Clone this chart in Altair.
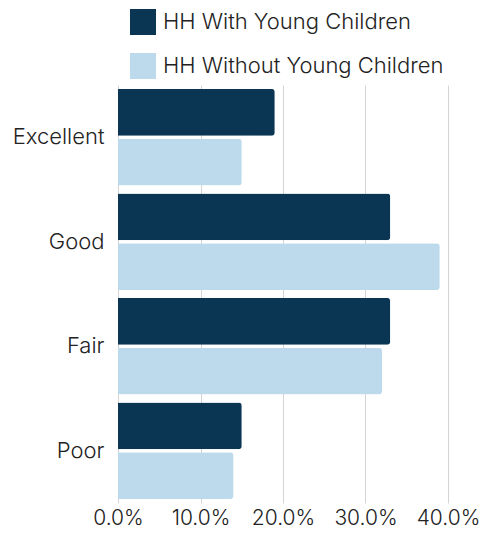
import altair as alt
import pandas as pd

categories = ["Excellent", "Good", "Fair", "Poor"]
series = ["HH With Young Children", "HH Without Young Children"]
with_young = [0.19, 0.33, 0.33, 0.15]
without_young = [0.15, 0.39, 0.32, 0.14]
colors = ["#0a3553", "#bdd9ec"]
x_ticks = [0, 0.1, 0.2, 0.3, 0.4]

rows = []
for c, a, b in zip(categories, with_young, without_young):
    rows.append({"cat": c, "series": series[0], "value": a})
    rows.append({"cat": c, "series": series[1], "value": b})
df = pd.DataFrame(rows)

FONT = "Inter"
FS = 22

chart = alt.Chart(df).mark_bar(cornerRadiusEnd=3).encode(
    y=alt.Y("cat:N", sort=categories, title=None,
            scale=alt.Scale(paddingInner=0.076, paddingOuter=0.038),
            axis=alt.Axis(domain=False, ticks=False, labelFontSize=FS, labelColor="#222222",
                          labelFont=FONT, labelFontWeight=300, labelPadding=14, grid=False,
                          labelLimit=0)),
    yOffset=alt.YOffset("series:N", sort=series, scale=alt.Scale(paddingInner=0.06)),
    x=alt.X("value:Q", title=None, scale=alt.Scale(domain=[0, 0.4], nice=False),
            axis=alt.Axis(values=x_ticks, format=".1%", domain=False, ticks=False,
                          labelFontSize=21, labelColor="#222222", labelFont=FONT,
                          labelFontWeight=300, labelOverlap=False, labelFlush=False,
                          labelPadding=4, grid=True, gridColor="#d4d4d4", gridWidth=1)),
    color=alt.Color("series:N", sort=series,
                    scale=alt.Scale(domain=series, range=colors),
                    legend=alt.Legend(title=None, orient="none", legendX=12, legendY=-76,
                                      symbolType="square", symbolSize=676,
                                      symbolStrokeWidth=0, symbolOpacity=1,
                                      labelFontSize=FS, labelFont=FONT, labelColor="#222222",
                                      labelFontWeight=300, labelLimit=0,
                                      labelOffset=7, rowPadding=18, padding=0,
                                      direction="vertical")),
).properties(
    width=330,
    height=418,
    autosize=alt.AutoSizeParams(type="none"),
    padding={"left": 110, "top": 77, "right": 32, "bottom": 28},
).configure_view(stroke=None)

chart.save("out.html", embed_options={"renderer": "svg", "actions": False})
